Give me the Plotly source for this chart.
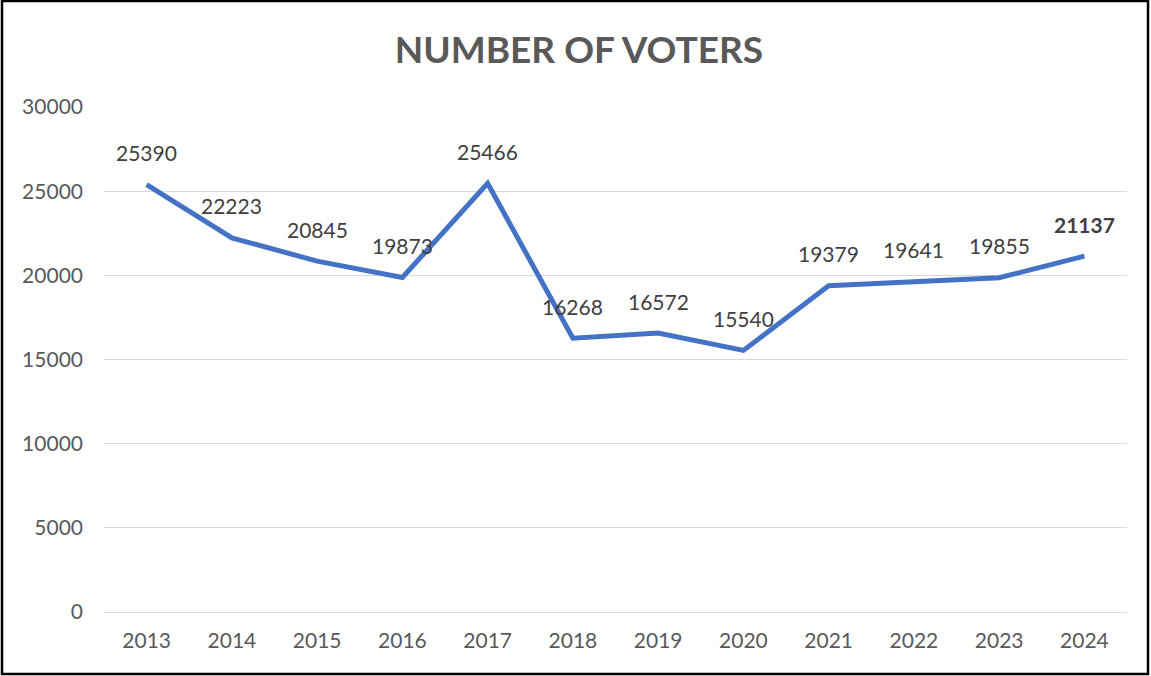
import plotly.graph_objects as go

years = ["2013", "2014", "2015", "2016", "2017", "2018", "2019", "2020", "2021", "2022", "2023", "2024"]
voters = [25390, 22223, 20845, 19873, 25466, 16268, 16572, 15540, 19379, 19641, 19855, 21137]
y_ticks = [0, 5000, 10000, 15000, 20000, 25000, 30000]

fig = go.Figure()
fig.add_trace(go.Scatter(
    x=years, y=voters, mode="lines",
    line=dict(color="#4472C4", width=5),
    hoverinfo="x+y", showlegend=False,
))

for i, v in enumerate(voters):
    last = i == len(voters) - 1
    fig.add_annotation(
        x=i, y=v, text=(f"<b>{v}</b>" if last else str(v)),
        showarrow=False, yshift=32,
        font=dict(family="Lato", size=21, color="#404040"),
    )

fig.update_layout(
    width=1151, height=676,
    paper_bgcolor="white", plot_bgcolor="white",
    margin=dict(l=104, r=24, t=107, b=64, autoexpand=False),
    title=dict(text="<b>NUMBER OF VOTERS</b>", x=0.503, xanchor="center", y=0.926, yanchor="middle",
               font=dict(family="Lato", size=37, color="#595959")),
    font=dict(family="Lato", size=21, color="#595959"),
)
fig.update_xaxes(
    type="category", range=[-0.5, len(years) - 0.5], autorange=False,
    showgrid=False, showline=False, zeroline=False, automargin=False,
    ticks="", ticklabelstandoff=14,
    tickfont=dict(family="Lato", size=21, color="#595959"),
)
fig.update_yaxes(
    range=[0, 30000], tickvals=y_ticks, ticktext=[str(t) for t in y_ticks],
    showgrid=True, gridcolor="#D9D9D9", gridwidth=1.3, automargin=False,
    zeroline=True, zerolinecolor="#D9D9D9", zerolinewidth=1.3,
    showline=False, ticks="", ticklabelstandoff=20,
    tickfont=dict(family="Lato", size=21, color="#595959"),
)

# outer border of the chart
fig.add_shape(type="rect", xref="paper", yref="paper",
              x0=-102/1023, x1=1044/1023, y0=-62/505, y1=(505+106)/505,
              line=dict(color="black", width=2.5), fillcolor="rgba(0,0,0,0)", layer="above")

fig.write_html("out.html", config={"displayModeBar": False},
               post_script="document.body.style.margin='0';document.body.style.overflow='hidden';")
